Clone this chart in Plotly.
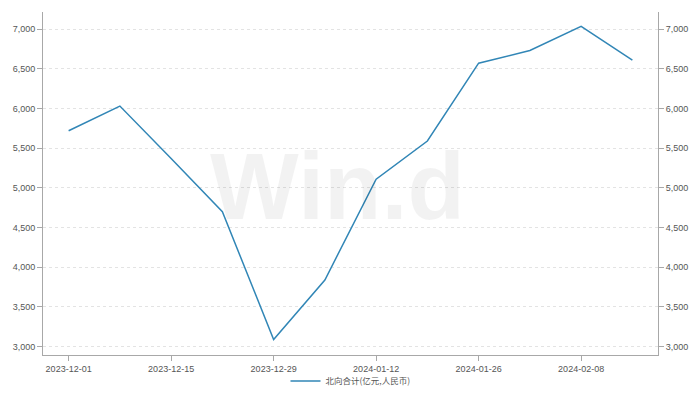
import plotly.graph_objects as go

dates = ["2023-12-01", "2023-12-08", "2023-12-15", "2023-12-22", "2023-12-29",
         "2024-01-05", "2024-01-12", "2024-01-19", "2024-01-26", "2024-02-02",
         "2024-02-08", "2024-02-23"]
values = [5720, 6030, 5370, 4700, 3090, 3840, 5110, 5590, 6570, 6730, 7035, 6610]
tick_labels = ["2023-12-01", "2023-12-15", "2023-12-29", "2024-01-12", "2024-01-26", "2024-02-08"]
series_name = "北向合计(亿元,人民币)"

line_color = "#3186b6"
axis_color = "#a8a8a8"
font = dict(family="Liberation Sans, Arial, sans-serif", size=9, color="#555555")

fig = go.Figure()
fig.add_trace(go.Scatter(x=dates, y=values, mode="lines", name=series_name,
                         line=dict(color=line_color, width=1.5)))
fig.add_trace(go.Scatter(x=dates, y=values, mode="lines", yaxis="y2",
                         line=dict(width=0, color="rgba(0,0,0,0)"),
                         showlegend=False, hoverinfo="skip"))

yrange = [2895, 7215]
fig.update_layout(
    width=700, height=399,
    margin=dict(l=43, r=42, t=12, b=44, autoexpand=False),
    paper_bgcolor="white", plot_bgcolor="white",
    font=font,
    xaxis=dict(type="category", range=[-0.5, 11.5], tickmode="array",
               tickvals=tick_labels, ticktext=tick_labels,
               showline=True, linecolor=axis_color, linewidth=1,
               ticks="outside", ticklen=5, tickcolor=axis_color,
               showgrid=False, zeroline=False, tickfont=font, automargin=False),
    yaxis=dict(range=yrange, dtick=500, tick0=3000, tickformat=",",
               showline=True, linecolor=axis_color, linewidth=1,
               ticks="outside", ticklen=5, tickcolor=axis_color,
               showgrid=True, gridcolor="#e3e3e3", griddash="3px,3px", gridwidth=1,
               zeroline=False, tickfont=font, automargin=False),
    yaxis2=dict(range=yrange, dtick=500, tick0=3000, tickformat=",",
                overlaying="y", side="right", anchor="x",
                showline=True, linecolor=axis_color, linewidth=1,
                ticks="outside", ticklen=5, tickcolor=axis_color,
                showgrid=False, zeroline=False, tickfont=font, automargin=False),
    legend=dict(orientation="h", x=0.5, xanchor="center", y=-0.076, yanchor="middle",
                font=dict(family="Noto Sans CJK SC, sans-serif", size=8.5, color="#555555"),
                bgcolor="rgba(0,0,0,0)", itemwidth=30),
    showlegend=True,
)

fig.add_annotation(text="<b>Win.d</b>", xref="paper", yref="paper", x=0.479, y=0.49,
                   xanchor="center", yanchor="middle", showarrow=False,
                   font=dict(family="Liberation Sans, sans-serif", size=94, color="rgba(0,0,0,0.05)"))

fig.write_html("out.html", config={"displayModeBar": False},
               post_script="document.body.style.margin='0';document.body.style.padding='0';")
